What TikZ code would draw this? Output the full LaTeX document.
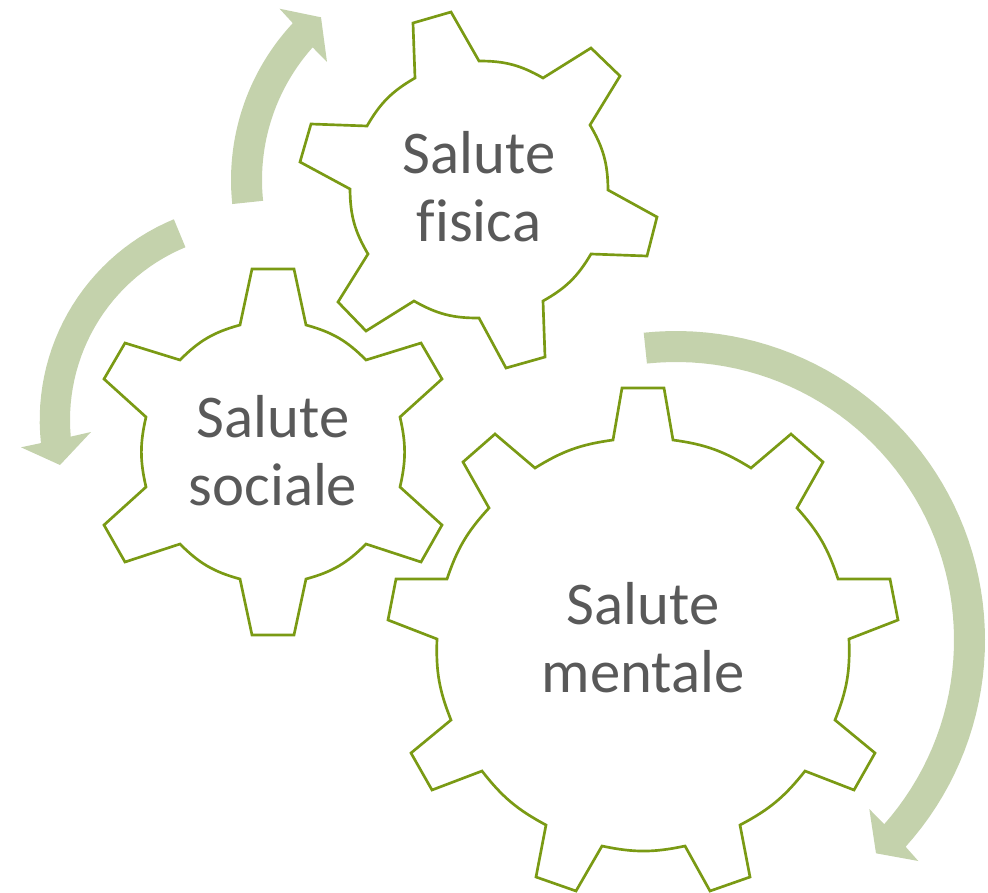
\documentclass[tikz,border=0pt]{standalone}
\usepackage{fontspec}
\setmainfont[Ligatures=NoCommon]{Carlito}
\definecolor{gearline}{HTML}{7A9A14}
\definecolor{arrowfill}{HTML}{C4D2AC}
\definecolor{labeltext}{HTML}{595959}
\tikzset{
  gear/.style={draw=gearline,line width=2pt,line join=miter,fill=white},
  sweep/.style={fill=arrowfill,draw=none},
  gearlabel/.style={text=labeltext,font=\fontsize{45.5}{51}\selectfont,align=center,inner sep=0pt},
  rim/.style={bend left=#1}
}
\begin{document}
\begin{tikzpicture}[x=0.75pt,y=-0.75pt]
\useasboundingbox (0,0) rectangle (988,892);
% sweep arrows
\fill[sweep] plot[domain=174:223,samples=30] ({461+230*cos(\x)},{180+230*sin(\x)})
  -- (279.5,8.7) -- (321,17.3) -- (327,62)
  -- plot[domain=221.8:174,samples=30] ({461+199*cos(\x)},{180+199*sin(\x)}) -- cycle;
\fill[sweep] plot[domain=247.5:173.9,samples=30] ({257+217.3*cos(\x)},{420+217.3*sin(\x)})
  -- (21,447.3) -- (60,465) -- (91,432)
  -- plot[domain=174.9:247.5,samples=30] ({257+187*cos(\x)},{420+187*sin(\x)}) -- cycle;
\fill[sweep] plot[domain=-96:42,samples=60] ({676+309*cos(\x)},{640+309*sin(\x)})
  -- (918.3,861) -- (876,853.3) -- (869.3,809)
  -- plot[domain=41.5:-96,samples=60] ({676+278*cos(\x)},{640+278*sin(\x)}) -- cycle;
% gear: fisica
\draw[gear] (413,23) -- (451,12) -- (479,61) to[rim=15] (543,78) -- (591,48) -- (620,76) -- (590,125)
  to[rim=15] (608,190) -- (657,217) -- (647,256) -- (591,254)
  to[rim=15] (543,301) -- (545,357) -- (506,368) -- (479,318)
  to[rim=15] (414,301) -- (366,331) -- (338,302) -- (368,254)
  to[rim=15] (350,189) -- (300,162) -- (311,124) -- (367,126)
  to[rim=15] (415,78) -- cycle;
% gear: sociale
\draw[gear] (252,269) -- (294,269) -- (306,325) to[rim=15] (366,360) -- (421,343) -- (442,379) -- (400,417)
  to[rim=13] (400,487) -- (442,525) -- (421,562) -- (366,544)
  to[rim=15] (306,579) -- (294,635) -- (252,635) -- (240,579)
  to[rim=15] (180,544) -- (125,562) -- (104,525) -- (146,487)
  to[rim=13] (146,417) -- (104,379) -- (125,343) -- (180,360)
  to[rim=15] (240,325) -- cycle;
% gear: mentale
\draw[gear] (622,388) -- (664,388) -- (673,440) to[rim=12] (751,468) -- (791,434) -- (823,462) -- (797,508)
  to[rim=12] (838,579) -- (890,579) -- (898,620) -- (849,639)
  to[rim=12] (835,720) -- (875,753) -- (854,790) -- (805,771)
  to[rim=12] (740,825) -- (750,877) -- (710,891) -- (685,846)
  to[rim=12] (602,846) -- (576,891) -- (536,877) -- (546,825)
  to[rim=12] (482,771) -- (432,790) -- (411,753) -- (451,720)
  to[rim=12] (437,639) -- (388,620) -- (396,579) -- (447,579)
  to[rim=12] (489,508) -- (463,462) -- (495,434) -- (535,468)
  to[rim=12] (613,440) -- cycle;
% labels
\node[gearlabel] (fisica) at (479,187) {Salute\\fisica};
\node[gearlabel] (sociale) at (273,451) {Salute\\sociale};
\node[gearlabel] (mentale) at (643,638) {Salute\\mentale};
\end{tikzpicture}
\end{document}
